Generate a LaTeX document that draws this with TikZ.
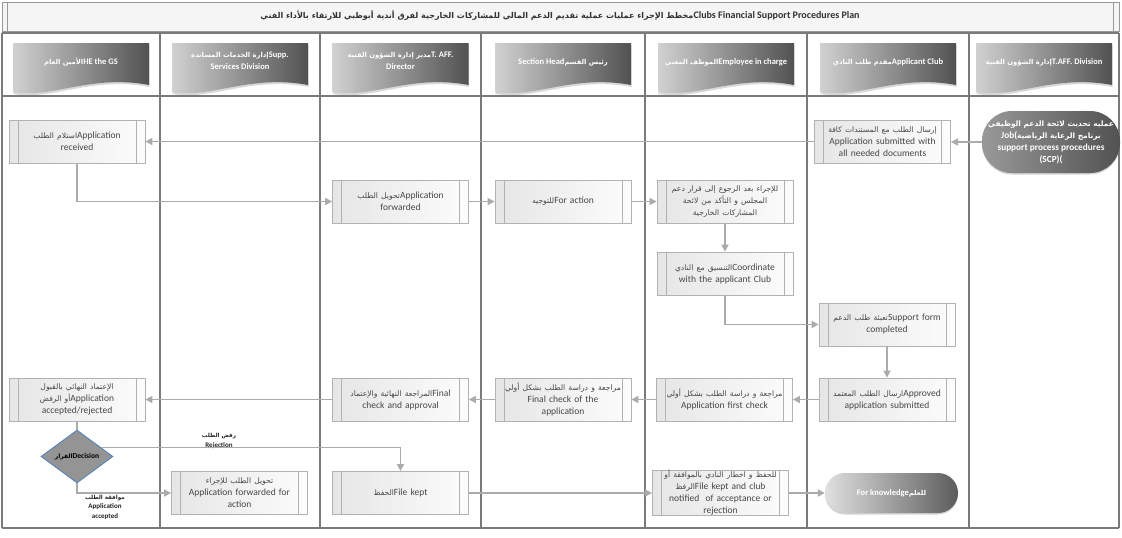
\documentclass[tikz,border=0pt]{standalone}
\usepackage{fontspec}
\setmainfont{Carlito}
\newfontfamily\arfont[Script=Arabic,Scale=0.8]{DejaVu Sans}
\TeXXeTstate=1
\usetikzlibrary{shapes.geometric,arrows.meta,shadows,calc}
\newcommand\AR[1]{{\arfont\beginR #1\endR}}
\definecolor{dblue}{HTML}{4F81BD}
\newcommand\bannerat[1]{%
  \shade[left color=black!18,right color=black!68,drop shadow={opacity=0.3,shadow xshift=0.5pt,shadow yshift=-2pt}]
   (#1-68,43) -- (#1+68,43) -- (#1+68,85) .. controls (#1+10,74) and (#1-30,99) .. (#1-68,92) -- cycle;}
\begin{document}
\begin{tikzpicture}[x=1pt,y=-1pt,
  lane/.style={draw=black!52,line width=1.4pt},
  proc/.style={draw=black!30,line width=0.8pt,left color=black!10,right color=black!1,
    minimum width=136pt,minimum height=43pt,text width=116pt,align=center,inner sep=0pt,
    font=\fontsize{9.5}{12}\selectfont,text=black!72,
    path picture={\draw[black!30,line width=0.8pt]
      ([xshift=9pt]path picture bounding box.north west) -- ([xshift=9pt]path picture bounding box.south west)
      ([xshift=-9pt]path picture bounding box.north east) -- ([xshift=-9pt]path picture bounding box.south east);}},
  arr/.style={draw=black!33,line width=1.6pt,-{Triangle[length=7pt,width=7pt]}},
  link/.style={draw=black!33,line width=1.6pt},
  hdr/.style={font=\fontsize{8.5}{12}\selectfont\bfseries,text=white,align=center,inner sep=0pt},
  term/.style={rectangle,rounded corners=20pt,minimum width=133pt,minimum height=40pt,
    font=\fontsize{8.5}{11.5}\selectfont\bfseries,text=white,align=center,inner sep=0pt,
    drop shadow={opacity=0.35,shadow xshift=0pt,shadow yshift=-1.5pt}},
  lbl/.style={font=\fontsize{7}{9.5}\selectfont\bfseries,text=black!85,align=center,inner sep=0pt}
]
\useasboundingbox (0,0) rectangle (1122,538);
\fill[white] (0,0) rectangle (1122,538);
% title
\draw[black!40,fill=black!4] (2,2) rectangle (1119,31);
\draw[black!40] (7,2) -- (7,31) (1113,2) -- (1113,31);
\node[font=\fontsize{10}{12}\selectfont\bfseries,text=black!80,inner sep=0pt] (title) at (560,16)
  {\AR{مخطط الإجراء عمليات عملية تقديم الدعم المالي للمشاركات الخارجية لفرق أندية أبوظبي للارتقاء بالأداء الفني}Clubs Financial Support Procedures Plan};
% lanes
\foreach \x in {2,160,320,481,645,807,969,1119} \draw[lane] (\x,33) -- (\x,528);
\draw[lane] (2,33) -- (1119,33) (2,96) -- (1119,96) (2,528) -- (1119,528);
% header banners
\foreach \c in {81,240,400.5,563,726,888,1044} {\bannerat{\c}}
\node[hdr] (h1) at (81,62) {\AR{الأمين العام}HE the GS};
\node[hdr] (h2) at (240,61) {\AR{إدارة الخدمات المساندة}Supp.\\Services Division};
\node[hdr] (h3) at (400.5,61) {\AR{مدير إدارة الشؤون الفنية}T. AFF.\\Director};
\node[hdr] (h4) at (563,62) {Section Head\AR{رئيس القسم}};
\node[hdr] (h5) at (726,62) {\AR{الموظف المعني}Employee in charge};
\node[hdr] (h6) at (888,62) {\AR{مقدم طلب النادي}Applicant Club};
\node[hdr] (h7) at (1044,62) {\AR{إدارة الشؤون الفنية}T.AFF. Division};
% body nodes
\node[term,rounded corners=30pt,minimum width=138pt,minimum height=62pt,
  font=\fontsize{9.3}{12}\selectfont\bfseries,
  left color=black!40,middle color=black!74,right color=black!68] (start) at (1051,142)
  {\AR{عمليه تحديث لائحة الدعم الوظيفي}\\Job(\AR{برنامج الرعاية الرياضية}\\support process procedures\\(SCP)(};
\node[proc] (sub) at (882.5,141.5) {\AR{إرسال الطلب مع المستندات كافة}\\Application submitted with\\all needed documents};
\node[proc] (recv) at (77,141.5) {\AR{استلام الطلب}Application\\received};
\node[proc] (fwd) at (400.5,201.5) {\AR{تحويل الطلب}Application\\forwarded};
\node[proc] (act) at (563,201.5) {\AR{للتوجيه}For action};
\node[proc] (emp) at (725,201.5) {\AR{للإجراء بعد الرجوع إلى قرار دعم}\\\AR{المجلس و التأكد من لائحة}\\\AR{المشاركات الخارجية}};
\node[proc] (coord) at (725,273.5) {\AR{التنسيق مع النادي}Coordinate\\with the applicant Club};
\node[proc] (supp) at (887,324.5) {\AR{تعبئة طلب الدعم}Support form\\completed};
\node[proc] (appr) at (887,399.5) {\AR{ارسال الطلب المعتمد}Approved\\application submitted};
\node[proc] (fc1) at (724.5,399.5) {\AR{مراجعة و دراسة الطلب بشكل أولي}\\Application first check};
\node[proc] (fc2) at (563,399.5) {\AR{مراجعة و دراسة الطلب بشكل أولي}\\Final check of the\\application};
\node[proc] (fca) at (400.5,399.5) {\AR{المراجعة النهائية والإعتماد}Final\\check and approval};
\node[proc] (aar) at (77,399.5) {\AR{الإعتماد النهائي بالقبول}\\\AR{أو الرفض}Application\\accepted/rejected};
\node[diamond,draw=dblue,line width=0.8pt,fill=black!42,minimum width=72pt,minimum height=53pt,inner sep=0pt] (dec) at (77,456.5) {};
\node[lbl,font=\fontsize{7.5}{9}\selectfont\bfseries,text=black] (dect) at (dec) {\AR{القرار}Decision};
\node[proc] (faa) at (239.5,493) {\AR{تحويل الطلب للإجراء}\\Application forwarded for\\action};
\node[proc] (fk) at (400.5,493) {\AR{الحفظ}File kept};
\node[proc] (fkc) at (720.5,493) {\AR{للحفظ و اخطار النادي بالموافقة أو}\\\AR{الرفظ}File kept and club\\notified\ \ of acceptance or\\rejection};
\node[term,left color=black!12,middle color=black!58,right color=black!64] (end) at (891.5,493) {For knowledge\AR{للعلم}};
% labels
\node[lbl] (rej) at (219,441) {\AR{رفض الطلب}\\Rejection};
\node[lbl] (acc) at (105,507) {\AR{موافقة الطلب}\\Application\\accepted};
% connectors
\draw[arr] (start.west) -- (start.west -| sub.east);
\draw[arr] (sub.west) -- (recv.east);
\draw[arr] (recv.south) |- (fwd.west);
\draw[arr] (fwd.east) -- (act.west);
\draw[arr] (act.east) -- (emp.west);
\draw[arr] (emp.south) -- (coord.north);
\draw[arr] (coord.south) |- (supp.west);
\draw[arr] (supp.south) -- (appr.north);
\draw[arr] (appr.west) -- (fc1.east);
\draw[arr] (fc1.west) -- (fc2.east);
\draw[arr] (fc2.west) -- (fca.east);
\draw[arr] (fca.west) -- (aar.east);
\draw[link] (aar.south) -- (dec.north);
\draw[arr] (dec.20) -| (fk.north);
\draw[arr] (dec.south) |- (faa.west);
\draw[arr] (fk.east) -- (fkc.west);
\draw[arr] (fkc.east) -- (end.west);
\end{tikzpicture}
\end{document}
